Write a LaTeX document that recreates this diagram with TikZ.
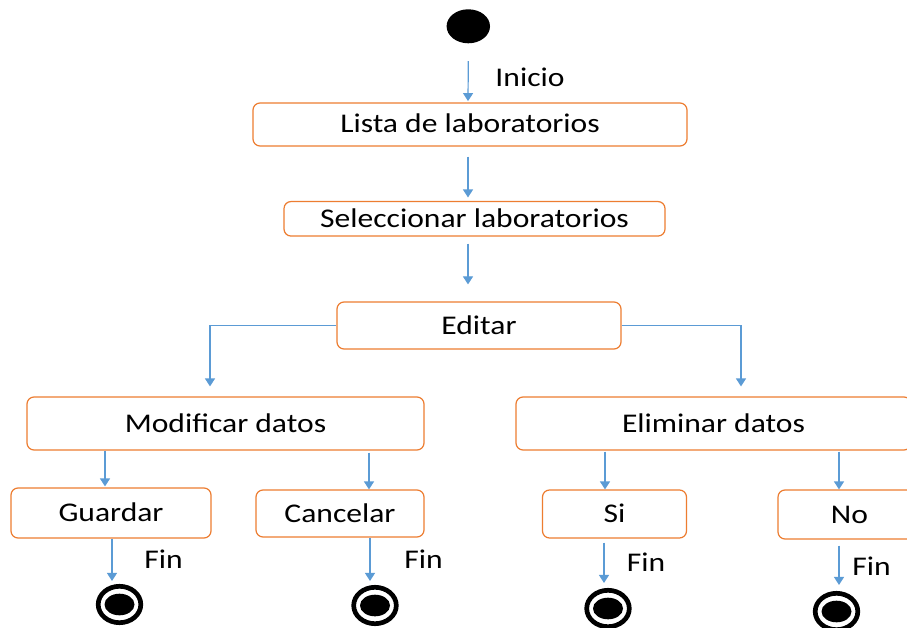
\documentclass[tikz,border=0pt]{standalone}
\usepackage{fontspec}
\setmainfont{Carlito}[FakeStretch=1.17]
\usetikzlibrary{arrows.meta,shapes.geometric}
\definecolor{boxorange}{HTML}{ED7D31}
\definecolor{arrowblue}{HTML}{5B9BD5}
\tikzset{
  box/.style={draw=boxorange, line width=1.2pt, rounded corners=7pt, fill=white,
    inner sep=0pt, text height=17pt, text depth=0pt, align=center,
    font=\fontsize{27}{30}\selectfont},
  lbl/.style={inner sep=0pt, text height=17pt, text depth=0pt,
    font=\fontsize{27}{30}\selectfont},
  arr/.style={draw=arrowblue, line width=1.2pt, -{Triangle[width=10pt,length=8pt]}},
  startst/.style={ellipse, fill=black, draw=none, minimum width=43.4pt, minimum height=34pt, inner sep=0pt},
  endst/.style={ellipse, draw=black, line width=4.7pt, minimum width=42.6pt, minimum height=36.4pt, inner sep=0pt,
    path picture={\fill[black] (path picture bounding box.center) ellipse (15pt and 10.8pt);}}
}
\begin{document}
\begin{tikzpicture}[x=1pt,y=-1pt]
\useasboundingbox (0,0) rectangle (907,628);
\clip (0,0) rectangle (907,628);
\fill[white] (0,0) rectangle (907,628);
\coordinate (axis) at (468,0);
% start
\node[startst] (start) at (468.3,26.3) {};
\node[lbl] (inicio) at (530,78.5) {Inicio};
% boxes
\node[box, minimum width=434pt, minimum height=43pt] (lista) at (470,124.5) {Lista de laboratorios};
\node[box, minimum width=381pt, minimum height=34.5pt] (selec) at (474.5,218.8) {Seleccionar laboratorios};
\node[box, minimum width=284pt, minimum height=47pt] (editar) at (479,325.5) {Editar};
\node[box, minimum width=397pt, minimum height=53pt] (modif) at (225.5,423.5) {Modificar datos};
\node[box, minimum width=395pt, minimum height=53pt] (elim) at (713.5,423.5) {Eliminar datos};
\node[box, minimum width=200pt, minimum height=50pt] (guardar) at (111,513) {Guardar};
\node[box, minimum width=168pt, minimum height=47pt] (cancelar) at (340,513.5) {Cancelar};
\node[box, minimum width=144pt, minimum height=48pt] (si) at (614.5,514) {Si};
\node[box, minimum width=143pt, minimum height=49pt] (no) at (849.5,514.5) {No};
% end states
\node[endst] (e1) at (119.5,604.5) {};
\node[endst] (e2) at (375,605.5) {};
\node[endst] (e3) at (608,608.5) {};
\node[endst] (e4) at (836.5,611.5) {};
% Fin labels
\node[lbl] (fin1) at (163.5,560) {Fin};
\node[lbl] (fin2) at (423.5,560) {Fin};
\node[lbl] (fin3) at (646,563) {Fin};
\node[lbl] (fin4) at (871.5,567) {Fin};
% connectors
\draw[arr] ([yshift=-17.7pt]start.south) -- ([yshift=1.3pt]axis |- lista.north);
\draw[arr] ([yshift=-10pt]axis |- lista.south) -- ([yshift=3.5pt]axis |- selec.north);
\draw[arr] ([yshift=-7pt]axis |- selec.south) -- ([yshift=17pt]axis |- editar.north);
\draw[arr] (editar.west) -| ([xshift=-15.5pt,yshift=10pt]modif.north);
\draw[arr] (editar.east) -| ([xshift=27.5pt,yshift=10pt]elim.north);
\draw[arr] ([xshift=-120.5pt]modif.south) -- ([xshift=-6pt,yshift=1pt]guardar.north);
\draw[arr] ([xshift=143.5pt,yshift=-2pt]modif.south) -- ([xshift=29pt]cancelar.north);
\draw[arr] ([xshift=-108.5pt,yshift=-1pt]elim.south) -- ([xshift=-9.5pt]si.north);
\draw[arr] ([xshift=125.5pt,yshift=-1pt]elim.south) -- ([xshift=-10.5pt]no.north);
\draw[arr] ([xshift=1pt]guardar.south) -- ([xshift=-7.5pt,yshift=3pt]e1.north);
\draw[arr] ([xshift=30pt]cancelar.south) -- ([xshift=-5pt,yshift=4pt]e2.north);
\draw[arr] ([xshift=-10.5pt,yshift=-4pt]si.south) -- ([xshift=-4pt,yshift=5pt]e3.north);
\draw[arr] ([xshift=-10.5pt,yshift=-6pt]no.south) -- ([xshift=2.5pt,yshift=6pt]e4.north);
\end{tikzpicture}
\end{document}
